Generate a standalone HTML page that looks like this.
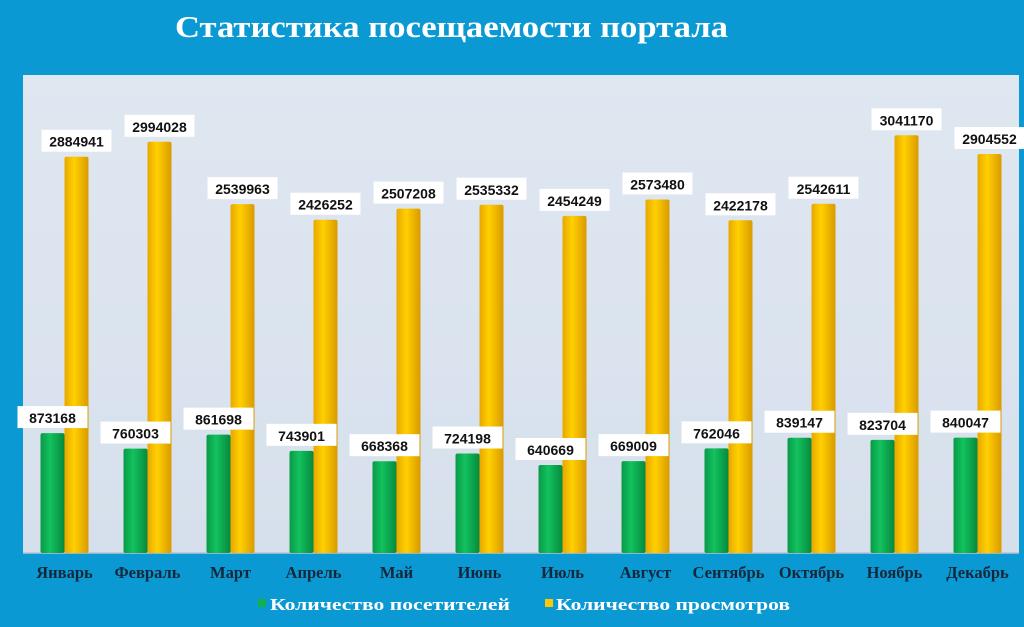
<!DOCTYPE html>
<html><head><meta charset="utf-8"><style>
body{margin:0;width:1024px;height:627px;background:#0b99d3;overflow:hidden;font-family:"Liberation Sans",sans-serif}
svg{display:block}
</style></head><body>
<svg width="1024" height="627">
<defs>
<linearGradient id="gg" x1="0" x2="1"><stop offset="0" stop-color="#0a9a48"/><stop offset="0.4" stop-color="#12c25e"/><stop offset="1" stop-color="#07893e"/></linearGradient>
<linearGradient id="yg" x1="0" x2="1"><stop offset="0" stop-color="#e8a800"/><stop offset="0.4" stop-color="#ffd000"/><stop offset="1" stop-color="#d99a00"/></linearGradient>
<linearGradient id="bg" x1="0" y1="0" x2="0" y2="1"><stop offset="0" stop-color="#dfe7f1"/><stop offset="1" stop-color="#d6e0ec"/></linearGradient>
</defs>
<text x="175" y="37" textLength="553" lengthAdjust="spacingAndGlyphs" fill="#fff" font-family="Liberation Serif,serif" font-weight="bold" font-size="31">Статистика посещаемости портала</text>
<rect x="23" y="75" width="996" height="478" fill="url(#bg)"/>
<line x1="23" y1="553" x2="1019" y2="553" stroke="#b8c4d0" stroke-width="1.5"/>
<g id="bars"></g>
<g>
<rect x="258" y="599" width="8" height="8" fill="#12b050"/>
<text x="270" y="610" textLength="240" lengthAdjust="spacingAndGlyphs" fill="#fff" font-family="Liberation Serif,serif" font-weight="bold" font-size="17">Количество посетителей</text>
<rect x="545" y="599" width="8" height="8" fill="#ffc800"/>
<text x="556" y="610" textLength="234" lengthAdjust="spacingAndGlyphs" fill="#fff" font-family="Liberation Serif,serif" font-weight="bold" font-size="17">Количество просмотров</text>
</g>
</svg>
<script>
const categories=["Январь","Февраль","Март","Апрель","Май","Июнь","Июль","Август","Сентябрь","Октябрь","Ноябрь","Декабрь"];
const visitors=[873168,760303,861698,743901,668368,724198,640669,669009,762046,839147,823704,840047];
const views=[2884941,2994028,2539963,2426252,2507208,2535332,2454249,2573480,2422178,2542611,3041170,2904552];
const yMax=3480000;
const plotL=23,plotR=1019,plotT=75,base=553;
const NS="http://www.w3.org/2000/svg";
const g=document.getElementById('bars');
const bw=(plotR-plotL)/categories.length;
function x(i){return plotL+bw*(i+0.5);}
function y(v){return base-(v/yMax)*(base-plotT);}
function mk(t,a){const e=document.createElementNS(NS,t);for(const k in a)e.setAttribute(k,a[k]);g.appendChild(e);return e;}
function label(cx,top,v,name){
  const w=70;
  const r=mk('rect',{x:cx-w/2,y:top-27,width:w,height:22,fill:'#fff'});
  
  
  const t=mk('text',{x:cx,y:top-10,'text-anchor':'middle','font-weight':'bold','font-size':'14',fill:'#111'});
  t.textContent=v;
  
  
}
categories.forEach((c,i)=>{
  const cx=x(i);
  const gy=y(visitors[i]),yy=y(views[i]);
  const b1=mk('rect',{x:cx-24,y:gy,width:24,height:base-gy,fill:'url(#gg)',rx:2});
  
  
  const b2=mk('rect',{x:cx,y:yy,width:24,height:base-yy,fill:'url(#yg)',rx:2});
  
  
  label(cx-12,gy,visitors[i],'value-visitors-'+(i+1));
  label(cx+12,yy,views[i],'value-views-'+(i+1));
  const t=mk('text',{x:cx,y:578,'text-anchor':'middle','font-family':'Liberation Serif,serif','font-weight':'bold','font-size':'16.5',fill:'#14283c'});
  t.textContent=c;
  
  
});
</script>
</body></html>
